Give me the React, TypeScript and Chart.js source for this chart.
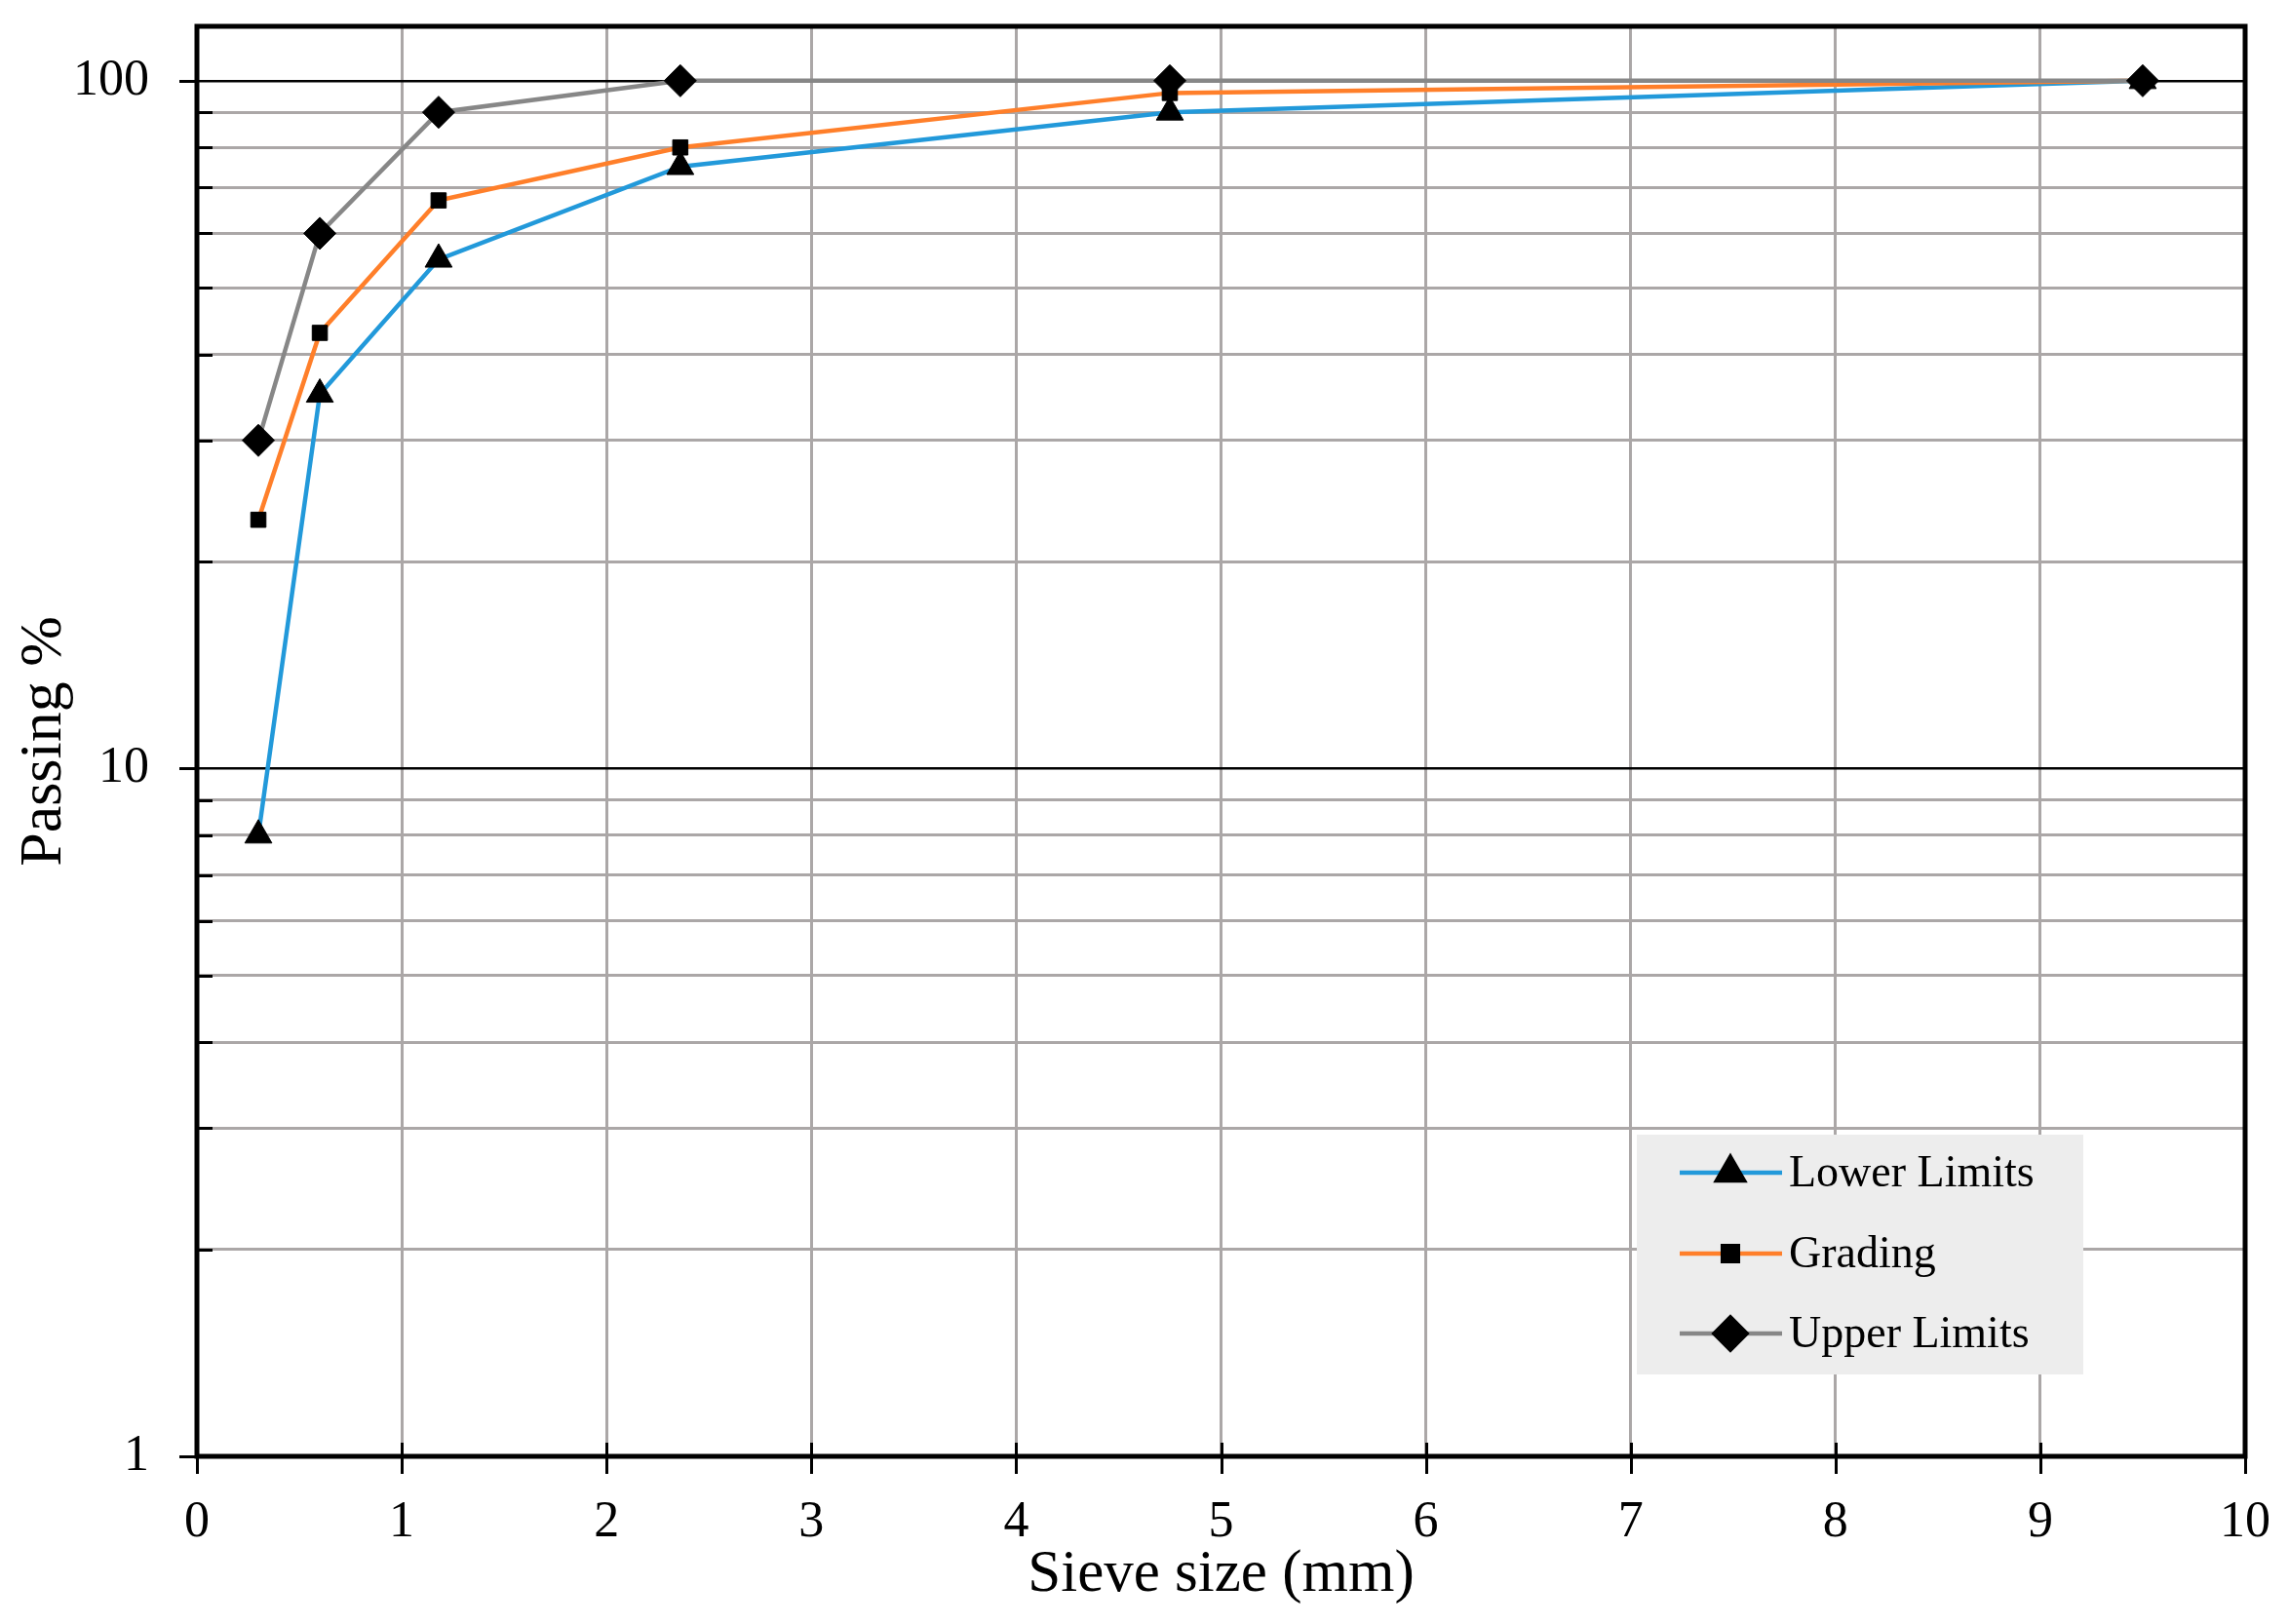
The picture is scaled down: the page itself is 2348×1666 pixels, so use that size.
import React, { useEffect, useRef } from 'react';
import { Chart, registerables } from 'chart.js';
import { drawPoint } from 'chart.js/helpers';

Chart.register(...registerables);

// ---- data ----
const sieveSizes = [0.3, 0.6, 1.18, 2.36, 4.75, 9.5];
const lowerLimits = [8, 35, 55, 75, 90, 100];
const grading = [23, 43, 67, 80, 96, 100];
const upperLimits = [30, 60, 90, 100, 100, 100];
const seriesLabels = ['Lower Limits', 'Grading', 'Upper Limits'];
const xTickValues = [0, 1, 2, 3, 4, 5, 6, 7, 8, 9, 10];
const yGridValues = [1, 2, 3, 4, 5, 6, 7, 8, 9, 10, 20, 30, 40, 50, 60, 70, 80, 90, 100, 120];
const yLabelValues = [1, 10, 100];
const xTitle = 'Sieve size (mm)';
const yTitle = 'Passing %';

// ---- style ----
const FONT = "'Liberation Serif', 'Times New Roman', serif";
const GRID_GREY = '#ABA7A7';
const COLORS = ['#2299DA', '#FF7F2A', '#878787'];
const POINT_STYLES = ['triangle', 'rect', 'rectRot'];
const POINT_RADII = [16, 11, 16.5];

const framePlugin = {
  id: 'frameAndLegend',
  afterDraw(chart: any) {
    const { ctx, chartArea } = chart;
    const { left, right, top, bottom } = chartArea;
    const xs = chart.scales.x;
    const ys = chart.scales.y;
    ctx.save();
    // tick marks
    ctx.strokeStyle = '#000';
    ctx.lineWidth = 3;
    ctx.beginPath();
    yGridValues.forEach((v) => {
      if (v > 100) return;
      const py = Math.round(ys.getPixelForValue(v)) + 0.5;
      if (yLabelValues.includes(v)) {
        ctx.moveTo(left - 18, py);
        ctx.lineTo(left, py);
      } else {
        ctx.moveTo(left, py);
        ctx.lineTo(left + 16, py);
      }
    });
    xTickValues.forEach((v) => {
      const px = Math.round(xs.getPixelForValue(v)) + 0.5;
      ctx.moveTo(px, bottom - 14);
      ctx.lineTo(px, bottom + 18);
    });
    ctx.stroke();
    // frame
    ctx.lineWidth = 5;
    ctx.strokeRect(left, top, right - left, bottom - top);

    // legend
    const bx = 1679, by = 1164, bw = 458, bh = 246;
    ctx.fillStyle = '#EDEDED';
    ctx.fillRect(bx, by, bw, bh);
    const rowYs = [1203, 1286, 1368];
    chart.data.datasets.forEach((ds: any, i: number) => {
      const ry = rowYs[i];
      ctx.strokeStyle = ds.borderColor;
      ctx.lineWidth = 4.5;
      ctx.beginPath();
      ctx.moveTo(1723, ry);
      ctx.lineTo(1828, ry);
      ctx.stroke();
      ctx.fillStyle = '#000';
      ctx.strokeStyle = '#000';
      drawPoint(ctx, { pointStyle: ds.pointStyle, radius: ds.pointRadius, rotation: 0, borderWidth: 1 }, 1775, ry);
      ctx.fillStyle = '#000';
      ctx.font = `46px ${FONT}`;
      ctx.textAlign = 'left';
      ctx.textBaseline = 'alphabetic';
      ctx.fillText(ds.label, 1835, ry + 14);
    });
    ctx.restore();
  },
};

function makeDataset(i: number, values: number[]) {
  return {
    label: seriesLabels[i],
    data: sieveSizes.map((x, k) => ({ x, y: values[k] })),
    borderColor: COLORS[i],
    backgroundColor: COLORS[i],
    borderWidth: 4.5,
    pointStyle: POINT_STYLES[i],
    pointRadius: POINT_RADII[i],
    pointBackgroundColor: '#000',
    pointBorderColor: '#000',
    pointBorderWidth: 1,
    tension: 0,
    order: 2 - i,
  };
}

export default function App() {
  const ref = useRef<HTMLCanvasElement | null>(null);
  useEffect(() => {
    if (!ref.current) return;
    const chart = new Chart(ref.current, {
      type: 'line',
      data: {
        datasets: [
          makeDataset(0, lowerLimits),
          makeDataset(1, grading),
          makeDataset(2, upperLimits),
        ] as any,
      },
      options: {
        animation: false,
        responsive: false,
        devicePixelRatio: 1,
        layout: { padding: { left: 0, top: 27, right: 45, bottom: 0 } },
        plugins: { legend: { display: false }, tooltip: { enabled: false } },
        scales: {
          x: {
            type: 'linear',
            min: 0,
            max: 10,
            afterBuildTicks: (scale: any) => {
              scale.ticks = xTickValues.map((v) => ({ value: v }));
            },
            ticks: {
              stepSize: 1,
              autoSkip: false,
              maxRotation: 0,
              padding: 37,
              color: '#000',
              font: { family: FONT, size: 52 },
            },
            grid: { drawTicks: false, color: GRID_GREY, lineWidth: 3 },
            border: { display: false },
            title: {
              display: true,
              text: xTitle,
              color: '#000',
              font: { family: FONT, size: 61 },
              padding: { top: 0, bottom: 13 },
            },
            afterFit: (scale: any) => {
              scale.height = 172;
              scale.paddingLeft = 0;
              scale.paddingRight = 0;
            },
          },
          y: {
            type: 'logarithmic',
            min: 1,
            max: 120,
            afterBuildTicks: (scale: any) => {
              scale.ticks = yGridValues.map((v) => ({ value: v, major: yLabelValues.includes(v) }));
            },
            ticks: {
              autoSkip: false,
              padding: 49,
              color: '#000',
              font: { family: FONT, size: 52 },
              callback: (v: any) => (yLabelValues.includes(Number(v)) ? String(v) : ''),
            },
            grid: {
              drawTicks: false,
              color: (c: any) => {
                const v = c.tick ? c.tick.value : 0;
                if (v > 100) return 'rgba(0,0,0,0)';
                return yLabelValues.includes(v) ? '#000' : GRID_GREY;
              },
              lineWidth: (c: any) => {
                const v = c.tick ? c.tick.value : 0;
                if (v > 100) return 0;
                return yLabelValues.includes(v) ? 2.5 : 3;
              },
            },
            border: { display: false },
            title: {
              display: true,
              text: yTitle,
              color: '#000',
              font: { family: FONT, size: 62 },
              padding: { top: 9, bottom: 0 },
            },
            afterFit: (scale: any) => {
              scale.width = 202;
              scale.paddingTop = 0;
              scale.paddingBottom = 0;
            },
          },
        },
      } as any,
      plugins: [framePlugin],
    });
    return () => chart.destroy();
  }, []);

  return (
    <div style={{ position: 'absolute', left: 0, top: 0, width: 2348, height: 1666, background: '#fff' }}>
      <canvas ref={ref} width={2348} height={1666} style={{ display: 'block' }} />
    </div>
  );
}
